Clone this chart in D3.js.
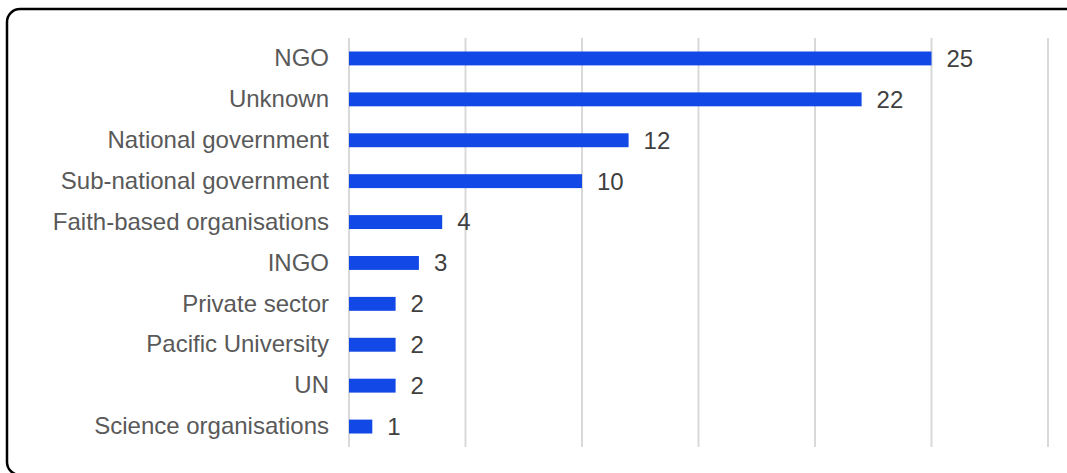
<!DOCTYPE html>
<html lang="en">
<head>
  <meta charset="utf-8">
  <title></title>
  <script src="https://d3js.org/d3.v7.min.js"></script>
  <style>
    body { margin: 0; background: #fff; }
    svg text { font-family: "Liberation Sans", Arial, sans-serif; }
  </style>
</head>
<body>
  <svg class="chart"></svg>
  <script>
  const categories = ["NGO", "Unknown", "National government", "Sub-national government",
    "Faith-based organisations", "INGO", "Private sector", "Pacific University", "UN",
    "Science organisations"];
  const counts = [25, 22, 12, 10, 4, 3, 2, 2, 2, 1];
  const gridTicks = [0, 5, 10, 15, 20, 25, 30];

  const width = 1067, height = 473;
  const margins = { top: 38, bottom: 26, left: 349, right: 19 };

  const svg = d3.select(".chart")
    .attr("width", width)
    .attr("height", height);

  // frame
  svg.append("rect")
    .attr("x", 7).attr("y", 9)
    .attr("width", 1090).attr("height", 466)
    .attr("rx", 13)
    .style("fill", "white").style("stroke", "black").style("stroke-width", 2.5);

  const xScale = d3.scaleLinear()
    .domain([0, 30])
    .range([margins.left, width - margins.right]);
  const yScale = d3.scaleBand()
    .domain(categories)
    .range([margins.top, height - margins.bottom])
    .paddingInner(0.66)
    .paddingOuter(0.33);

  svg.append("g").selectAll("line")
    .data(gridTicks).enter()
    .append("line")
    .attr("x1", d => xScale(d)).attr("x2", d => xScale(d))
    .attr("y1", margins.top).attr("y2", height - margins.bottom)
    .style("stroke", "#d9d9d9").style("stroke-width", 2);

  svg.append("g").selectAll("rect")
    .data(counts).enter()
    .append("rect")
    .attr("x", xScale(0))
    .attr("y", (d, i) => yScale(categories[i]))
    .attr("width", d => xScale(d) - xScale(0))
    .attr("height", yScale.bandwidth())
    .style("fill", "#1248e6");

  const yAxis = d3.axisLeft(yScale).tickSize(0).tickPadding(20);
  const yg = svg.append("g")
    .attr("transform", "translate(" + xScale(0) + ",0)")
    .call(yAxis);
  yg.select(".domain").remove();
  yg.selectAll("text").style("font-size", "24px").style("fill", "#595959");

  svg.append("g").selectAll("text")
    .data(counts).enter()
    .append("text")
    .attr("x", d => xScale(d) + 15)
    .attr("y", (d, i) => yScale(categories[i]) + yScale.bandwidth() / 2)
    .attr("dy", "0.35em")
    .text(d => d)
    .style("font-size", "24px").style("fill", "#404040");
  </script>
</body>
</html>
